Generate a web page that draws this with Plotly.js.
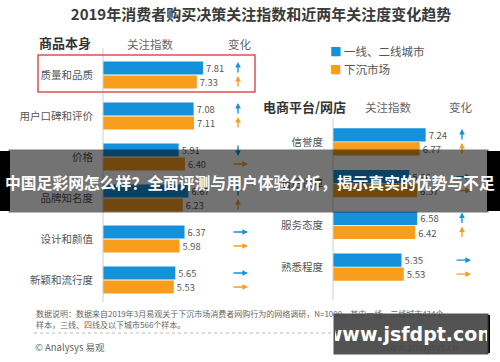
<!DOCTYPE html>
<html>
<head>
<meta charset="utf-8">
<script src="https://cdn.plot.ly/plotly-3.0.1.min.js"></script>
<style>html,body{margin:0;padding:0;background:#fff;}#chart{width:500px;height:362px;}</style>
</head>
<body>
<div id="chart"></div>
<script>
// ---- data ----
const seriesNames = ['一线、二线城市', '下沉市场'];
const leftCats = ['质量和品质', '用户口碑和评价', '价格', '品牌知名度', '设计和颜值', '新颖和流行度'];
const leftTier12 = [7.81, 7.08, 5.91, 6.67, 6.37, 5.65];
const leftSinking = [7.33, 7.11, 6.40, 6.23, 5.98, 5.53];
const leftTier12Change = ['up', 'up', 'down', 'up', 'right', 'right'];
const leftSinkingChange = ['up', 'up', 'right', 'up', 'right', 'right'];
const rightCats = ['信誉度', '售后保障', '服务态度', '熟悉程度'];
const rightTier12 = [7.24, 5.96, 6.58, 5.35];
const rightSinking = [6.77, 6.57, 6.42, 5.53];
const rightTier12Change = ['up', 'right', 'up', 'right'];
const rightSinkingChange = ['up', 'right', 'up', 'right'];

// ---- style ----
const W = 500, H = 362;
const FONT = '"Noto Sans CJK SC", "Noto Sans", sans-serif';
const BLUE = '#1591DC', ORANGE = '#F99D1C';
const px = v => v / W;
const py = v => 1 - v / H;

function barTrace(name, x, y, color, xa, ya, show) {
  return {
    type: 'bar', orientation: 'h', name: name, x: x, y: y,
    xaxis: xa, yaxis: ya, showlegend: show,
    marker: {color: color},
    texttemplate: '%{x:.2f}', textposition: 'outside', cliponaxis: false,
    textfont: {family: FONT, size: 11.5, color: '#555'},
    hoverinfo: 'skip'
  };
}

const data = [
  barTrace(seriesNames[0], leftTier12, leftCats, BLUE, 'x', 'y', false),
  barTrace(seriesNames[1], leftSinking, leftCats, ORANGE, 'x', 'y', false),
  barTrace(seriesNames[0], rightTier12, rightCats, BLUE, 'x2', 'y2', false),
  barTrace(seriesNames[1], rightSinking, rightCats, ORANGE, 'x2', 'y2', false)
];

const annotations = [];
function arrow(dir, xUp, xRight, yref, cat, shift, color) {
  const base = {xref: 'paper', yref: yref, y: cat, text: '', showarrow: true,
    arrowhead: 2, arrowsize: 0.8, arrowwidth: 1.4, arrowcolor: color, axref: 'pixel', ayref: 'pixel'};
  if (dir === 'up') annotations.push(Object.assign(base, {x: xUp, yshift: shift + 6, ax: 0, ay: 12}));
  else if (dir === 'down') annotations.push(Object.assign(base, {x: xUp, yshift: shift - 6, ax: 0, ay: -12}));
  else annotations.push(Object.assign(base, {x: xRight, yshift: shift, ax: -16, ay: 0}));
}
leftCats.forEach((c, i) => {
  arrow(leftTier12Change[i], px(238), px(248), 'y', c, 7, BLUE);
  arrow(leftSinkingChange[i], px(238), px(248), 'y', c, -7, ORANGE);
});
rightCats.forEach((c, i) => {
  arrow(rightTier12Change[i], px(462), px(471), 'y2', c, 7, BLUE);
  arrow(rightSinkingChange[i], px(462), px(471), 'y2', c, -7, ORANGE);
});

function txt(text, x, y, size, color, opts) {
  annotations.push(Object.assign({xref: 'paper', yref: 'paper', x: px(x), y: py(y), text: text,
    showarrow: false, xanchor: 'center', yanchor: 'middle',
    font: {family: FONT, size: size, color: color}}, opts || {}));
}
// headers
txt('<b>商品本身</b>', 65, 43, 13, '#333');
txt('关注指数', 150, 44, 11.5, '#666');
txt('变化', 240, 44, 11.5, '#666');
txt('<b>电商平台/网店</b>', 304, 107, 13, '#333');
txt('关注指数', 388, 107, 11.5, '#666');
txt('变化', 461, 107, 11.5, '#666');
// legend
txt('<span style="color:' + BLUE + '">■</span> ' + seriesNames[0], 328, 51, 11.5, '#555', {xanchor: 'left'});
txt('<span style="color:' + ORANGE + '">■</span> ' + seriesNames[1], 328, 69, 11.5, '#555', {xanchor: 'left'});
// footnote
txt('数据说明：数据来自2019年3月易观关于下沉市场消费者网购行为的网络调研，N=1000，其中一线、二线城市434个', 34, 313, 8, '#666', {xanchor: 'left'});
txt('样本，三线、四线及以下城市566个样本。', 34, 324, 8, '#666', {xanchor: 'left'});
txt('© Analysys 易观', 33, 347, 9.5, '#666', {xanchor: 'left'});
txt('www.analysys.cn', 460, 347, 9.5, '#666', {xanchor: 'right'});
// overlay watermark box
txt('<b>www.jsfdpt.com</b>', 411, 334, 19, '#fff', {width: 152, height: 38, bgcolor: 'rgba(70,70,70,0.93)',
  font: {family: '"DejaVu Sans", sans-serif', size: 19, color: '#fff'}});
// overlay banner: background band, then text on top
txt(' ', 248.5, 181, 10, '#fff', {width: 477, height: 60, bgcolor: 'rgba(0,0,0,0.55)'});
txt('<b>中国足彩网怎么样？全面评测与用户体验分析，揭示真实的优势与不足</b>', 250, 182, 15.8, '#fff');

const shapes = [
  {type: 'line', xref: 'paper', yref: 'paper', x0: px(103), x1: px(103), y0: py(48), y1: py(302), line: {color: '#cfcfcf', width: 1}},
  {type: 'line', xref: 'paper', yref: 'paper', x0: px(333), x1: px(333), y0: py(118), y1: py(300), line: {color: '#cfcfcf', width: 1}},
  {type: 'rect', xref: 'paper', yref: 'paper', x0: px(38), x1: px(255), y0: py(92), y1: py(55), line: {color: '#D9534F', width: 1.5}},
  {type: 'line', xref: 'paper', yref: 'paper', x0: px(34), x1: px(460), y0: py(333), y1: py(333), line: {color: '#bbb', width: 1, dash: 'dot'}},
  {type: 'rect', xref: 'paper', yref: 'paper', x0: 0, x1: px(10), y0: py(211), y1: py(151), fillcolor: '#000', line: {width: 0}, layer: 'above'},
  {type: 'rect', xref: 'paper', yref: 'paper', x0: px(487), x1: 1, y0: py(211), y1: py(151), fillcolor: '#000', line: {width: 0}, layer: 'above'},
  {type: 'rect', xref: 'paper', yref: 'paper', x0: px(487), x1: px(490), y0: py(353), y1: py(315), fillcolor: '#000', line: {width: 0}, layer: 'above'}
];

const yTick = {family: FONT, size: 10.5, color: '#555'};
const layout = {
  width: W, height: H, margin: {l: 0, r: 0, t: 0, b: 0},
  paper_bgcolor: '#fff', plot_bgcolor: 'rgba(0,0,0,0)',
  showlegend: false,
  barmode: 'group', bargap: 0.32, bargroupgap: 0.07,
  title: {text: '<b>2019年消费者购买决策关注指数和近两年关注度变化趋势</b>', x: 0.522, xanchor: 'center',
    y: py(15), yanchor: 'middle', font: {family: FONT, size: 15, color: '#3a3a3a'}},
  xaxis: {domain: [px(103), px(231)], range: [0, 10], visible: false, fixedrange: true},
  yaxis: {domain: [py(300.5), py(54.5)], autorange: 'reversed', showgrid: false, zeroline: false,
    showline: false, ticks: '', tickfont: yTick, ticklabelstandoff: 9, anchor: 'x'},
  xaxis2: {domain: [px(333), px(461)], range: [0, 10], visible: false, fixedrange: true, anchor: 'y2'},
  yaxis2: {domain: [py(288), py(121)], autorange: 'reversed', showgrid: false, zeroline: false,
    showline: false, ticks: '', tickfont: yTick, ticklabelstandoff: 9, anchor: 'x2'},
  shapes: shapes,
  annotations: annotations,
  font: {family: FONT}
};

Plotly.newPlot('chart', data, layout, {displayModeBar: false, staticPlot: true});
</script>
</body>
</html>
